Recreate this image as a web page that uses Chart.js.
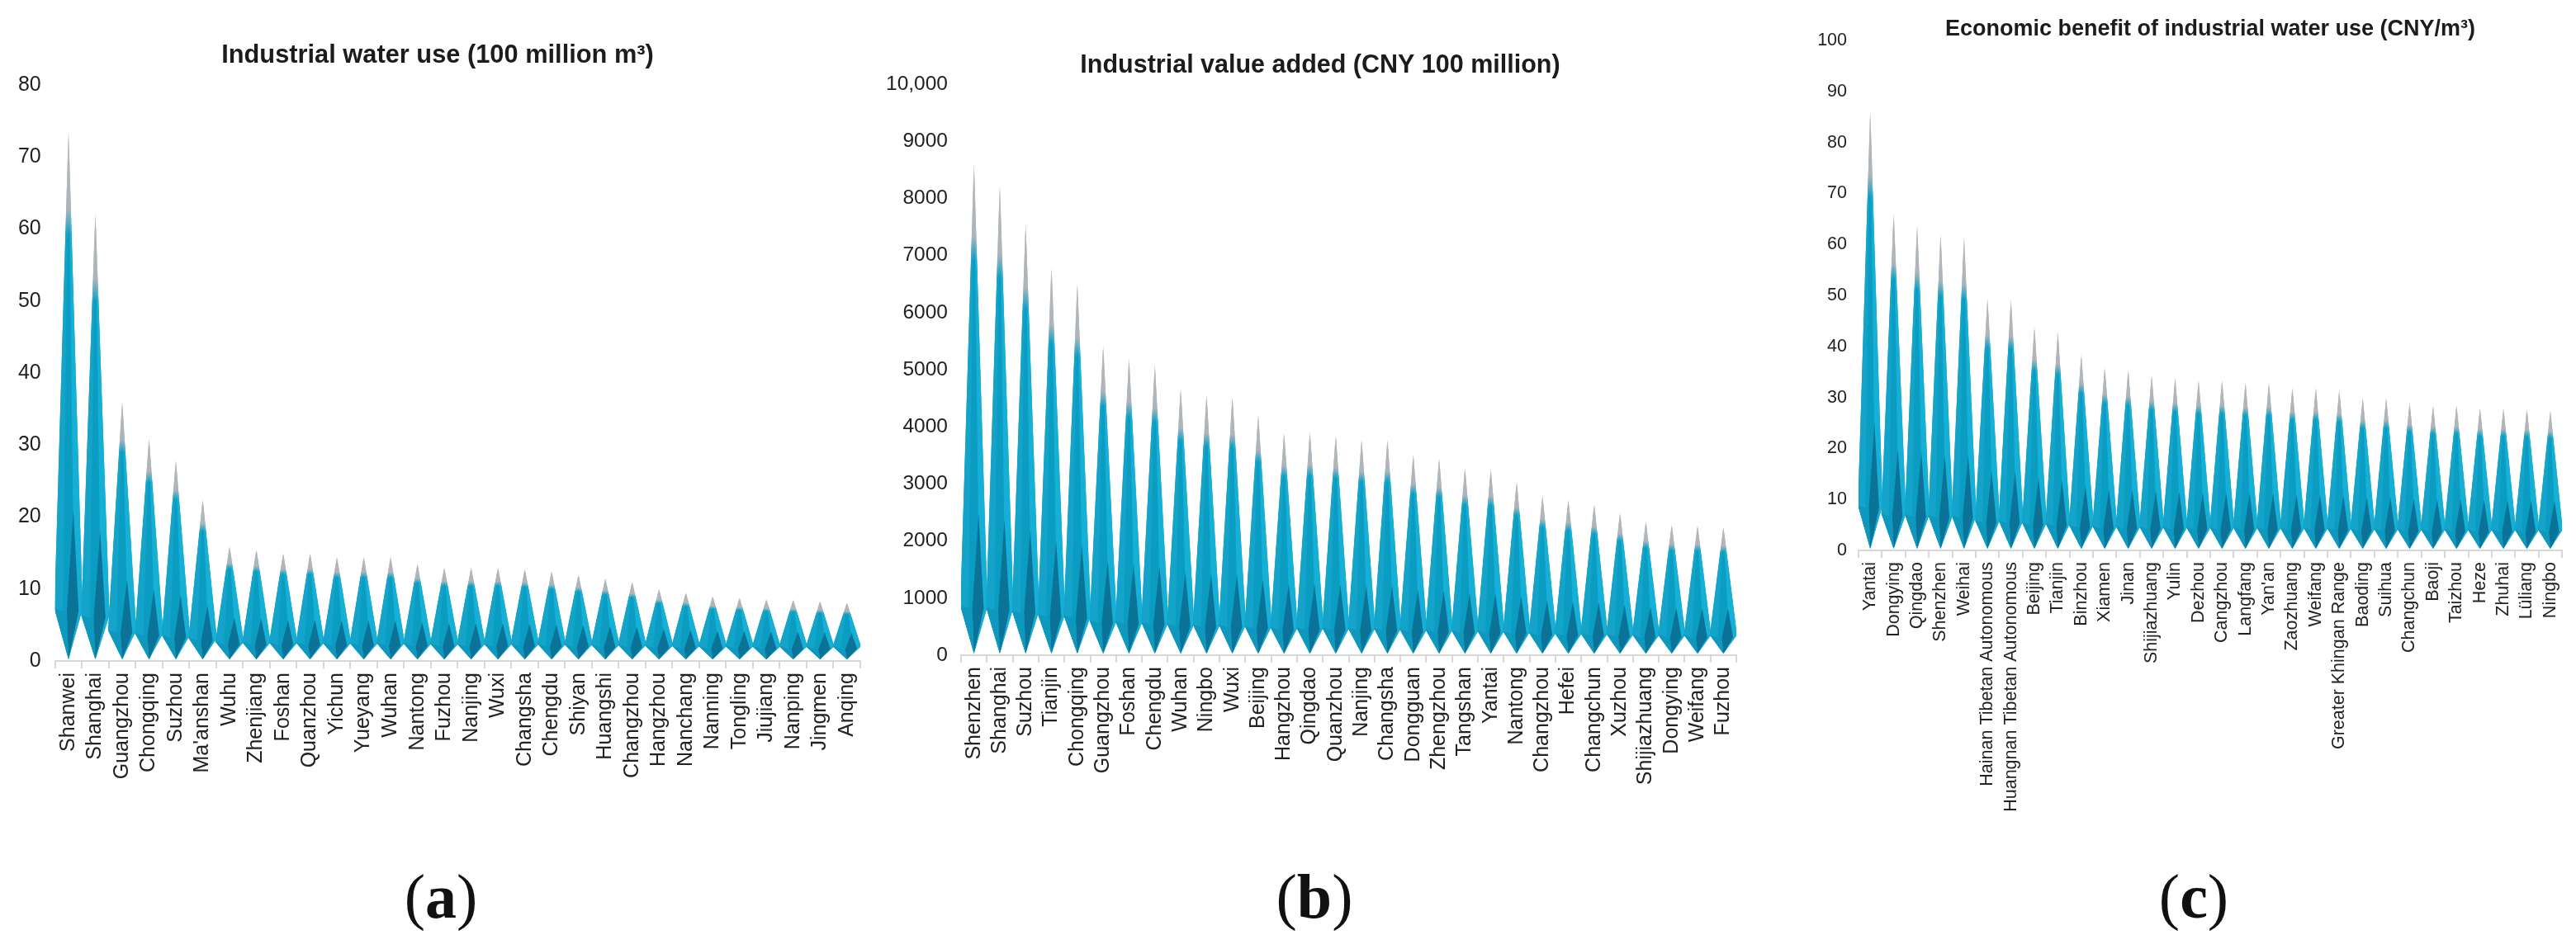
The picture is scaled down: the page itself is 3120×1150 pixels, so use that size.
<!DOCTYPE html>
<html><head><meta charset="utf-8">
<script src="https://cdn.jsdelivr.net/npm/chart.js@4"></script>
<style>
html,body{margin:0;padding:0;background:#fff;width:3120px;height:1150px;overflow:hidden}
#page{position:relative;width:3120px;height:1150px;overflow:hidden;background:#fff}
canvas{position:absolute;top:0}
.panel{position:absolute;top:1043px;transform:translateX(-50%);font:76px "Liberation Serif",serif;color:#111;white-space:nowrap}
.panel b{font-weight:bold}
</style></head><body>
<div id="page">
<canvas id="ca"></canvas><canvas id="cb"></canvas><canvas id="cc"></canvas>
<div class="panel" style="left:534px">(<b>a</b>)</div>
<div class="panel" style="left:1592px">(<b>b</b>)</div>
<div class="panel" style="left:2657px">(<b>c</b>)</div>
</div>
<script>
const citiesA = ["Shanwei","Shanghai","Guangzhou","Chongqing","Suzhou","Ma'anshan","Wuhu","Zhenjiang","Foshan","Quanzhou","Yichun","Yueyang","Wuhan","Nantong","Fuzhou","Nanjing","Wuxi","Changsha","Chengdu","Shiyan","Huangshi","Changzhou","Hangzhou","Nanchang","Nanning","Tongling","Jiujiang","Nanping","Jingmen","Anqing"];
const waterUse = [73.9,62.4,36.2,31,28,22.5,16,15.5,15,15,14.5,14.5,14.5,13.5,13,13,13,12.8,12.5,12,11.5,11,10,9.5,9,8.8,8.6,8.5,8.3,8.1];
const citiesB = ["Shenzhen","Shanghai","Suzhou","Tianjin","Chongqing","Guangzhou","Foshan","Chengdu","Wuhan","Ningbo","Wuxi","Beijing","Hangzhou","Qingdao","Quanzhou","Nanjing","Changsha","Dongguan","Zhengzhou","Tangshan","Yantai","Nantong","Changzhou","Hefei","Changchun","Xuzhou","Shijiazhuang","Dongying","Weifang","Fuzhou"];
const valueAdded = [8640,8260,7580,6810,6540,5440,5220,5100,4690,4575,4545,4227,3907,3920,3865,3790,3790,3530,3460,3290,3270,3050,2800,2730,2650,2500,2350,2290,2280,2250];
const citiesC = ["Yantai","Dongying","Qingdao","Shenzhen","Weihai","Hainan Tibetan Autonomous","Huangnan Tibetan Autonomous","Beijing","Tianjin","Binzhou","Xiamen","Jinan","Shijiazhuang","Yulin","Dezhou","Cangzhou","Langfang","Yan'an","Zaozhuang","Weifang","Greater Khingan Range","Baoding","Suihua","Changchun","Baoji","Taizhou","Heze","Zhuhai","Lüliang","Ningbo"];
const benefit = [86.5,66.3,64,62.2,61.6,49.6,49.4,44,43,38.5,36,35.5,34.5,34,33.5,33.5,33,33,32,32,31.5,30,30,29,28.5,28.5,28,28,27.8,27.5];
const titleA = "Industrial water use (100 million m³)";
const titleB = "Industrial value added (CNY 100 million)";
const titleC = "Economic benefit of industrial water use (CNY/m³)";

const FONT = '"Liberation Sans", Arial, sans-serif';

// Draw every bar element as a faceted spike, from the element's own scale-derived geometry.
const Bar = Chart.registry.getElement('bar');
Bar.prototype.draw = function (ctx) {
  const {x, y, base, width} = this.getProps(['x','y','base','width']);
  const h = base - y, W = width * 1.05;
  const ys = base - (0.08*h + 12), yb = base - 2, ya = base - (0.26*h + 16);
  const grad = c => {
    const g = ctx.createLinearGradient(0, y, 0, base);
    g.addColorStop(0, 'rgba(200,204,206,0.35)');
    g.addColorStop(0.025, '#b2b7ba');
    g.addColorStop(0.15, '#aeb5ba');
    g.addColorStop(0.2, c);
    g.addColorStop(1, c);
    return g;
  };
  const poly = (pts, c) => {
    ctx.beginPath();
    pts.forEach((p,i) => i ? ctx.lineTo(p[0],p[1]) : ctx.moveTo(p[0],p[1]));
    ctx.closePath();
    ctx.fillStyle = c; ctx.fill();
  };
  const T=[x,y], L=[x-W/2,ys], R=[x+W/2,ys], B=[x,yb];
  const CL=[x-0.2*W,ys], CR=[x+0.2*W,ys];
  ctx.save();
  poly([T,L,B,R], grad('#0b9cc2'));
  poly([T,L,B,CL], grad('#14a4ca'));
  poly([T,R,B,CR], grad('#16b0d6'));
  const A=[x+0.17*W,ya];
  poly([A,[x-0.06*W,ys+4],B,[x+0.36*W,ys+3]], '#0b7397');
  poly([L,B,[x-0.06*W,ys+4]], '#0e98be');
  ctx.restore();
};

function makeChart(id, left, canvasW, labels, data, title, fontSize, yMax, yStep, plotLeft, plotRight, plotTop, plotBottom, titleFont, titleCenterX, titleCenterY, tickFont, yPad) {
  const el = document.getElementById(id);
  el.width = canvasW; el.height = 1010;
  el.style.left = left + 'px'; el.style.width = canvasW + 'px'; el.style.height = '1010px';
  const lh = titleFont * 1.2;
  const tTop = titleCenterY - lh/2;
  new Chart(el, {
    type: 'bar',
    data: { labels, datasets: [{ data, barPercentage: 1, categoryPercentage: 1, backgroundColor: '#0a99c0' }] },
    options: {
      responsive: false, animation: false, devicePixelRatio: 1,
      layout: { padding: { left: 0, right: left + canvasW - plotRight, top: 0, bottom: 0 } },
      plugins: {
        legend: { display: false }, tooltip: { enabled: false },
        title: { display: true, text: title, color: '#1c1c1c',
          font: { family: FONT, size: titleFont, weight: 'bold', lineHeight: 1.2 },
          padding: { top: tTop, bottom: plotTop - tTop - lh } }
      },
      scales: {
        x: {
          grid: { display: true, drawOnChartArea: false, drawTicks: true, tickLength: 9, color: '#d8d8d8', lineWidth: 2, offset: true },
          border: { display: true, color: '#d8d8d8', width: 2 },
          ticks: { autoSkip: false, maxRotation: 90, minRotation: 90, padding: 5, color: '#222', font: { family: FONT, size: tickFont } },
          afterFit: s => { s.height = 1010 - plotBottom; }
        },
        y: {
          min: 0, max: yMax,
          grid: { display: false, drawTicks: false }, border: { display: false },
          ticks: { stepSize: yStep, padding: yPad, color: '#222', font: { family: FONT, size: fontSize },
            callback: v => v >= 10000 ? '10,000' : String(v) },
          afterFit: s => { s.width = plotLeft - left; }
        }
      }
    },
    plugins: [{ id: 'titleCentre', afterLayout(chart) {
      // place the title's centre where the figure has it
      const t = chart.titleBlock, half = canvasW / 2, c = titleCenterX - left;
      t.left = c - half; t.right = c + half;
    } }]
  });
}
makeChart('ca', 0, 1068, citiesA, waterUse, titleA, 25, 80, 10, 66.75, 1042, 103, 801, 30.8, 530, 68, 25, 17);
makeChart('cb', 1060, 1088, citiesB, valueAdded, titleB, 24.5, 10000, 1000, 1164, 2103, 102, 794, 30.5, 1599, 80, 25, 16);
makeChart('cc', 2180, 940, citiesC, benefit, titleC, 21.5, 100, 10, 2251, 3104, 49, 667, 27, 2677, 36, 21.5, 14);
</script>
</body></html>
